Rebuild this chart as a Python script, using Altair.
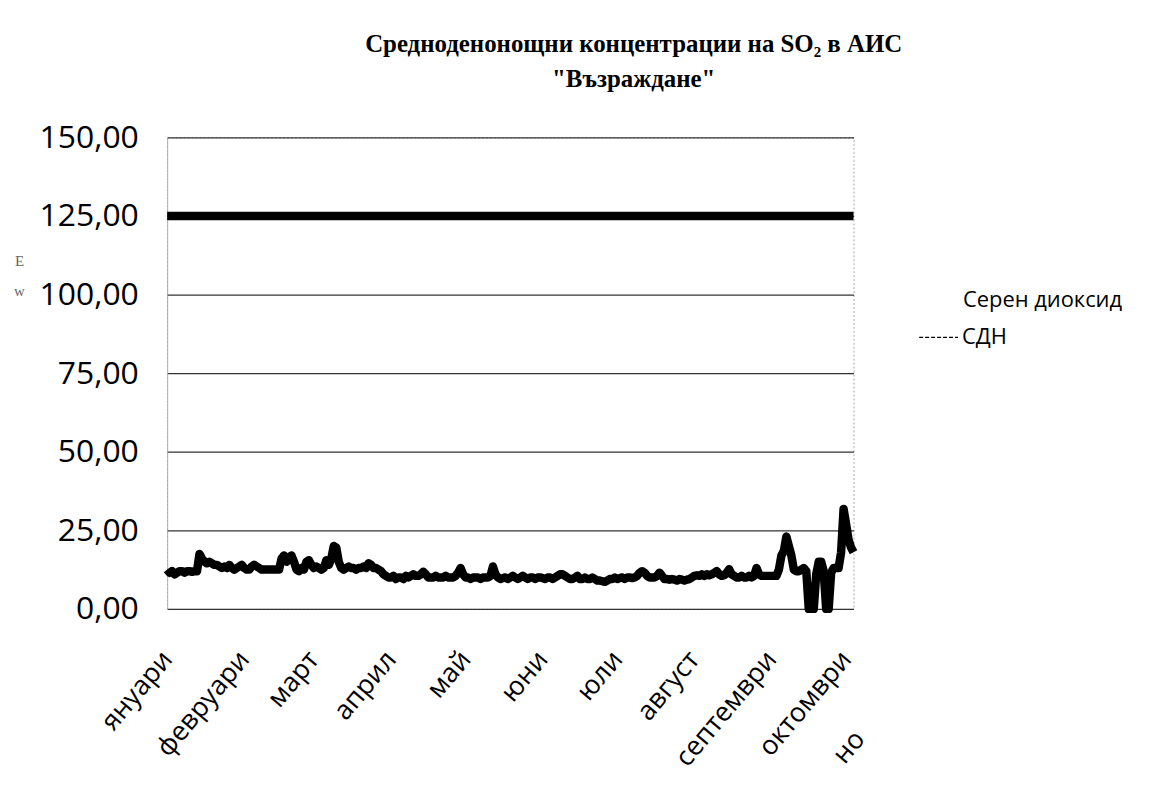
import altair as alt
import pandas as pd

# Daily mean SO2 concentrations (day index from 1 January)
so2_values = [
    12.5, 11.5, 12.0, 11.0, 11.5, 12.0, 12.0, 11.5, 12.0, 12.0,
    11.8, 12.0, 12.0, 17.5, 16.0, 15.0, 14.5, 15.0, 14.5, 14.0,
    14.0, 13.5, 13.0, 13.5, 13.0, 14.0, 13.0, 12.5, 13.0, 13.5,
    14.0, 13.0, 12.5, 12.5, 13.5, 14.0, 13.5, 13.0, 12.5, 12.5,
    12.5, 12.5, 12.5, 12.5, 12.5, 12.5, 16.0, 17.0, 15.0, 16.5,
    17.0, 15.0, 12.5, 12.0, 13.0, 12.5, 15.0, 15.5, 14.0, 13.0,
    13.5, 13.0, 12.5, 13.0, 15.5, 14.0, 16.0, 20.0, 19.5, 15.0,
    13.0, 12.5, 13.0, 13.5, 13.0, 13.0, 12.5, 13.0, 13.0, 13.5,
    13.0, 14.5, 14.0, 13.0, 13.0, 12.5, 12.0, 11.0, 10.5, 10.0,
    10.0, 10.5, 9.5, 10.0, 10.0, 9.5, 10.5, 10.0, 10.5, 11.0,
    10.5, 10.5, 11.0, 11.8, 11.0, 10.0, 10.0, 10.0, 10.5, 10.0,
    10.0, 10.0, 10.5, 10.0, 10.0, 10.0, 10.5, 11.5, 13.0, 11.0,
    10.0, 10.0, 9.5, 10.0, 10.0, 10.0, 9.5, 10.0, 10.0, 10.0,
    10.5, 13.5, 11.0, 10.0, 9.5, 9.8, 10.0, 9.5, 10.0, 10.5,
    10.0, 9.5, 10.0, 10.5, 10.0, 9.5, 10.0, 10.0, 9.5, 10.0,
    10.0, 9.8, 9.5, 10.0, 10.0, 9.5, 10.0, 10.5, 11.0, 11.0,
    10.5, 10.0, 9.5, 9.5, 10.0, 10.5, 9.5, 9.5, 10.0, 9.5,
    9.5, 10.0, 9.5, 9.0, 9.0, 8.8, 8.6, 9.0, 9.5, 9.5,
    10.0, 9.5, 9.8, 10.0, 9.5, 10.0, 10.0, 9.8, 10.0, 10.5,
    11.5, 12.0, 11.5, 10.5, 10.0, 10.0, 10.0, 10.5, 11.5, 10.5,
    9.5, 9.5, 9.3, 9.5, 9.3, 9.0, 9.5, 9.3, 9.0, 9.3,
    9.5, 10.0, 10.5, 10.7, 10.5, 11.0, 10.5, 11.0, 10.7, 11.0,
    11.5, 12.0, 11.0, 10.5, 10.7, 11.5, 12.6, 11.0, 10.5, 10.0,
    10.0, 10.5, 10.0, 10.0, 10.5, 10.0, 10.5, 13.0, 11.0, 10.5,
    10.5, 10.5, 10.5, 10.5, 10.5, 10.5, 12.5, 17.0, 18.5, 23.0,
    20.0, 17.0, 12.5, 12.0, 12.0, 12.5, 13.0, 12.0, 0.0, 0.0,
    0.0, 11.0, 15.0, 15.0, 12.0, 0.0, 0.0, 11.5, 13.0, 13.0,
    13.0, 18.0, 31.8, 27.0, 22.0, 19.5, 18.0,
]
limit_value = 125.0  # СДН (daily limit value)

series_names = ["Серен диоксид", "СДН"]
month_labels = ["януари", "февруари", "март", "април", "май", "юни",
                "юли", "август", "септември", "октомври", "но"]
month_days = [0, 31, 59, 90, 120, 151, 181, 212, 243, 273, 276]
y_ticks = [0, 25, 50, 75, 100, 125, 150]

title_lines = ["Средноденонощни концентрации на SO₂ в АИС", "\"Възраждане\""]
y_title_lines = ["E", "w"]

n = len(so2_values)
days = list(range(n))
df = pd.DataFrame({
    "day": days + days,
    "value": so2_values + [limit_value] * n,
    "series": [series_names[0]] * n + [series_names[1]] * n,
})

label_expr = ("[" + ",".join("'%s'" % m for m in month_labels) + "][indexof(["
              + ",".join(str(d) for d in month_days) + "], datum.value)]")

lines = alt.Chart(df).mark_line(strokeWidth=8.5, strokeJoin="round", clip=False).encode(
    x=alt.X("day:Q",
            scale=alt.Scale(domain=[0, n - 1], nice=False, zero=False),
            axis=alt.Axis(values=month_days, labelExpr=label_expr, title=None,
                          labelAngle=-50, labelAlign="right", labelBaseline="middle",
                          labelFont="Open Sans", labelFontSize=27, labelColor="black",
                          labelPadding=alt.ConditionalAxisNumber(
                              condition={"test": "datum.value == 276", "value": 126},
                              value=46),
                          labelOffset=alt.ConditionalAxisNumber(
                              condition={"test": "datum.value == 276", "value": 6},
                              value=0),
                          labelOverlap=False, labelFlush=False, labelBound=False,
                          ticks=False, domain=False, grid=False)),
    y=alt.Y("value:Q",
            scale=alt.Scale(domain=[0, 150], nice=False),
            axis=alt.Axis(values=y_ticks,
                          labelExpr="replace(format(datum.value, '.2f'), '.', ',')",
                          labelFont="Open Sans", labelFontSize=32,
                          labelColor="black", labelPadding=29, ticks=False,
                          domainColor="#999999", domainDash=[2, 2], domainWidth=1,
                          gridColor="#333333", gridWidth=1.2,
                          title=y_title_lines, titleAngle=0, titleX=-149, titleY=124,
                          titleAlign="center", titleBaseline="middle",
                          titleFont="Liberation Serif", titleFontSize=15,
                          titleFontWeight="normal", titleColor="#666666",
                          titleLineHeight=30)),
    color=alt.Color("series:N", scale=alt.Scale(domain=series_names,
                                                 range=["black", "black"]),
                    legend=None),
    detail="series:N",
)

legend_df = pd.DataFrame({"label": series_names})

leg1 = alt.Chart(legend_df).transform_filter(
    alt.datum.label == series_names[0]).mark_text(
    align="left", baseline="middle", font="Open Sans", fontSize=22, color="black").encode(
    x=alt.value(800), y=alt.value(164), text="label:N")
leg2 = alt.Chart(legend_df).transform_filter(
    alt.datum.label == series_names[1]).mark_text(
    align="left", baseline="middle", font="Open Sans", fontSize=22, color="black").encode(
    x=alt.value(799), y=alt.value(201), text="label:N")
leg_dash = alt.Chart(legend_df).transform_filter(
    alt.datum.label == series_names[1]).mark_rule(
    color="black", strokeWidth=1.2, strokeDash=[4, 2]).encode(
    x=alt.value(756), x2=alt.value(795), y=alt.value(201))

chart = alt.layer(lines, leg_dash, leg1, leg2).properties(
    width=690, height=474,
    autosize=alt.AutoSizeParams(type="none"),
    padding={"left": 160, "top": 128, "right": 290, "bottom": 180},
    title=alt.TitleParams(text=title_lines, font="Liberation Serif", fontSize=25,
                          fontWeight="bold", color="black", anchor="middle",
                          frame="group", dx=124, offset=30, lineHeight=35),
).configure(background="white").configure_view(
    stroke="#aaaaaa", strokeDash=[2, 2], strokeWidth=1)

chart.save("out.html", embed_options={"renderer": "svg", "actions": False})
